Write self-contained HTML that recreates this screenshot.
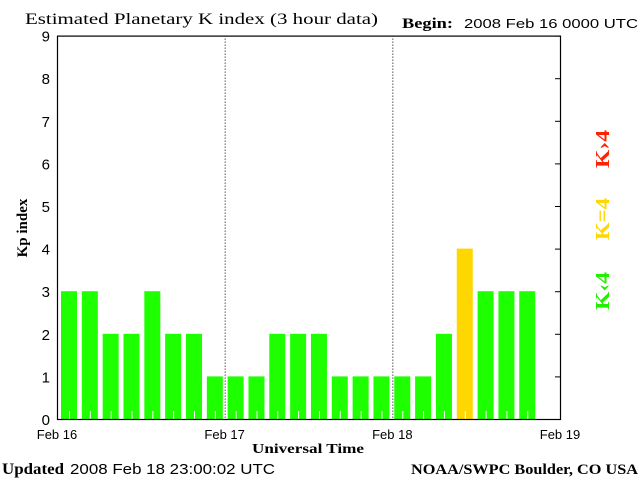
<!DOCTYPE html>
<html><head><meta charset="utf-8"><style>
body{margin:0;background:#fff;width:640px;height:480px;overflow:hidden}
svg text{font-family:"Liberation Serif",serif}
.s{font-family:"Liberation Sans",sans-serif}
</style></head><body>
<svg width="640" height="480" id="c">
<text x="25" y="24" font-size="16" textLength="353" lengthAdjust="spacingAndGlyphs">Estimated Planetary K index (3 hour data)</text>
<text x="402" y="28" font-size="15" font-weight="bold" textLength="51" lengthAdjust="spacingAndGlyphs">Begin:</text>
<text x="464" y="28" font-size="13" class="s" textLength="174" lengthAdjust="spacingAndGlyphs">2008 Feb 16 0000 UTC</text>
<text transform="translate(27,228) rotate(-90)" text-anchor="middle" font-size="15" font-weight="bold">Kp index</text>
<text x="252" y="453" font-size="14" font-weight="bold" textLength="112" lengthAdjust="spacingAndGlyphs">Universal Time</text>
<text x="2" y="474" font-size="16" font-weight="bold" textLength="62" lengthAdjust="spacingAndGlyphs">Updated</text>
<text x="70" y="474" font-size="15" class="s" textLength="205" lengthAdjust="spacingAndGlyphs">2008 Feb 18 23:00:02 UTC</text>
<text x="411" y="474" font-size="15" font-weight="bold" textLength="227" lengthAdjust="spacingAndGlyphs">NOAA/SWPC Boulder, CO USA</text>
<text transform="translate(609,310) rotate(-90)" font-size="20" font-weight="bold" fill="#22ee00" textLength="38" lengthAdjust="spacingAndGlyphs">K‹4</text>
<text transform="translate(609,240) rotate(-90)" font-size="20" font-weight="bold" fill="#ffd700" textLength="42" lengthAdjust="spacingAndGlyphs">K=4</text>
<text transform="translate(609,168) rotate(-90)" font-size="20" font-weight="bold" fill="#ff2200" textLength="38" lengthAdjust="spacingAndGlyphs">K›4</text>
<g id="plot"></g>
</svg>
<script>
const kpValues=[3,3,2,2,3,2,2,1,1,1,2,2,2,1,1,1,1,1,2,4,3,3,3];
const yTicks=[0,1,2,3,4,5,6,7,8,9];
const dayLabels=["Feb 16","Feb 17","Feb 18","Feb 19"];
const NS="http://www.w3.org/2000/svg";
const X0=57,X1=560,Y0=419,UNIT=42.6,SLOT=20.83;
const g=document.getElementById('plot');
function y(v){return Y0-v*UNIT;}
function dayX(d){return X0+d*(X1-X0)/3;}
function mk(t,a){const e=document.createElementNS(NS,t);for(const k in a)e.setAttribute(k,a[k]);g.appendChild(e);return e;}
kpValues.forEach((v,i)=>{
  const bx=61+i*SLOT;
  const r=mk('rect',{x:bx,y:y(v),width:16,height:Y0-y(v),fill:v>4?'#ff2200':(v==4?'#ffd700':'#1eff00')});
  
  
  const t=mk('line',{x1:bx+8.5,x2:bx+8.5,y1:Y0-8,y2:Y0,stroke:'#fff','stroke-width':1});
  
  
});
[1,2].forEach(d=>{
  const l=mk('line',{x1:dayX(d)+.5,x2:dayX(d)+.5,y1:y(9),y2:Y0,stroke:'#000','stroke-dasharray':'1,2'});
  
  
});
const fr=mk('rect',{x:X0+.5,y:y(9)+.5,width:X1-X0,height:Y0-y(9),fill:'none',stroke:'#000','stroke-width':1.2});


yTicks.forEach(v=>{
  const t=mk('text',{x:50,y:y(v)+6,'text-anchor':'end','font-size':15,class:'s'});
  t.textContent=v;
  
  
  const tk=mk('line',{x1:X1-5,x2:X1,y1:y(v)+.5,y2:y(v)+.5,stroke:'#000'});
  
  
});
dayLabels.forEach((s,d)=>{
  const t=mk('text',{x:dayX(d),y:439,'text-anchor':'middle','font-size':13,class:'s'});
  t.textContent=s;
  
  
});
</script>
</body></html>
